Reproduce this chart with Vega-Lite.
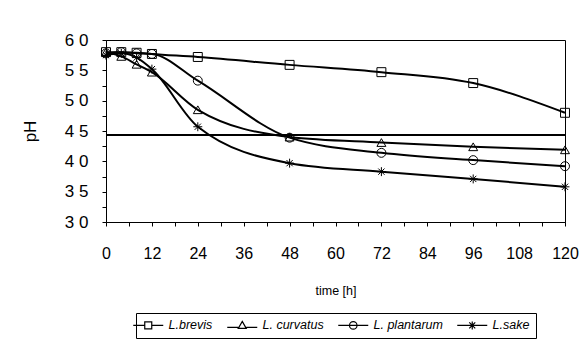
{
  "$schema": "https://vega.github.io/schema/vega-lite/v6.json",
  "width": 459,
  "height": 182,
  "autosize": {"type": "none"},
  "padding": {"left": 106, "top": 40, "right": 17, "bottom": 121},
  "background": "white",
  "config": {
    "font": "Liberation Sans",
    "view": {"stroke": "black", "strokeWidth": 1},
    "axis": {
      "domainColor": "black",
      "tickColor": "black",
      "labelColor": "black",
      "titleColor": "black",
      "grid": false,
      "tickSize": 4,
      "labelFontSize": 16,
      "titleFontWeight": "normal"
    }
  },
  "data": {
    "values": [
      {"series": "L.brevis", "t": 0, "ph": 5.8},
      {"series": "L.brevis", "t": 4, "ph": 5.8},
      {"series": "L.brevis", "t": 8, "ph": 5.79},
      {"series": "L.brevis", "t": 12, "ph": 5.77},
      {"series": "L.brevis", "t": 24, "ph": 5.72},
      {"series": "L.brevis", "t": 48, "ph": 5.59},
      {"series": "L.brevis", "t": 72, "ph": 5.47},
      {"series": "L.brevis", "t": 96, "ph": 5.29},
      {"series": "L.brevis", "t": 120, "ph": 4.8},
      {"series": "L. curvatus", "t": 0, "ph": 5.8},
      {"series": "L. curvatus", "t": 4, "ph": 5.73},
      {"series": "L. curvatus", "t": 8, "ph": 5.6},
      {"series": "L. curvatus", "t": 12, "ph": 5.47},
      {"series": "L. curvatus", "t": 24, "ph": 4.85},
      {"series": "L. curvatus", "t": 48, "ph": 4.4},
      {"series": "L. curvatus", "t": 72, "ph": 4.31},
      {"series": "L. curvatus", "t": 96, "ph": 4.24},
      {"series": "L. curvatus", "t": 120, "ph": 4.19},
      {"series": "L. plantarum", "t": 0, "ph": 5.78},
      {"series": "L. plantarum", "t": 4, "ph": 5.8},
      {"series": "L. plantarum", "t": 8, "ph": 5.78},
      {"series": "L. plantarum", "t": 12, "ph": 5.77},
      {"series": "L. plantarum", "t": 24, "ph": 5.33},
      {"series": "L. plantarum", "t": 48, "ph": 4.39},
      {"series": "L. plantarum", "t": 72, "ph": 4.14},
      {"series": "L. plantarum", "t": 96, "ph": 4.02},
      {"series": "L. plantarum", "t": 120, "ph": 3.92},
      {"series": "L.sake", "t": 0, "ph": 5.75},
      {"series": "L.sake", "t": 4, "ph": 5.78},
      {"series": "L.sake", "t": 8, "ph": 5.71},
      {"series": "L.sake", "t": 12, "ph": 5.52},
      {"series": "L.sake", "t": 24, "ph": 4.57},
      {"series": "L.sake", "t": 48, "ph": 3.97},
      {"series": "L.sake", "t": 72, "ph": 3.83},
      {"series": "L.sake", "t": 96, "ph": 3.71},
      {"series": "L.sake", "t": 120, "ph": 3.58}
    ]
  },
  "encoding": {
    "x": {
      "field": "t",
      "type": "quantitative",
      "scale": {"domain": [0, 120], "nice": false, "zero": false},
      "axis": {
        "title": "time [h]",
        "titleFontSize": 12.5,
        "titlePadding": 23,
        "labelPadding": 19,
        "values": [0, 6, 12, 18, 24, 30, 36, 42, 48, 54, 60, 66, 72, 78, 84, 90, 96, 102, 108, 114, 120],
        "labelExpr": "datum.value % 12 === 0 ? datum.label : ''",
        "labelFlush": false,
        "labelOverlap": false
      }
    },
    "y": {
      "field": "ph",
      "type": "quantitative",
      "scale": {"domain": [3, 6], "nice": false, "zero": false},
      "axis": {
        "title": "pH",
        "titleFontSize": 17,
        "titlePadding": 25,
        "labelPadding": 14,
        "labelFontSize": 17,
        "values": [3, 3.25, 3.5, 3.75, 4, 4.25, 4.5, 4.75, 5, 5.25, 5.5, 5.75, 6],
        "labelExpr": "(datum.value * 2) % 1 === 0 ? replace(format(datum.value, '.1f'), '.', ' ') : ''",
        "labelFlush": false,
        "labelOverlap": false
      }
    }
  },
  "layer": [
    {
      "mark": {"type": "rule", "color": "black", "strokeWidth": 1.5},
      "encoding": {"y": {"datum": 4.43}, "x": {"datum": 0}, "x2": {"datum": 120}}
    },
    {
      "mark": {"type": "line", "color": "black", "strokeWidth": 2, "interpolate": "monotone"},
      "encoding": {"detail": {"field": "series"}}
    },
    {
      "mark": {"type": "point", "filled": false, "color": "black", "size": 80, "strokeWidth": 1, "opacity": 1},
      "encoding": {
        "shape": {
          "field": "series",
          "scale": {
            "domain": ["L.brevis", "L. curvatus", "L. plantarum", "L.sake"],
            "range": ["square", "triangle-up", "circle", "M-1,0H1M0,-1V1M-0.7,-0.7L0.7,0.7M-0.7,0.7L0.7,-0.7"]
          },
          "legend": null
        }
      }
    },
    {
      "mark": {"type": "point", "filled": false, "color": "black", "opacity": 0, "strokeWidth": 1},
      "encoding": {
        "shape": {
          "field": "series",
          "scale": {
            "domain": ["L.brevis", "L. curvatus", "L. plantarum", "L.sake"],
            "range": [
              "M-3,0H-0.7M0.7,0H3M-0.7,-0.7H0.7V0.7H-0.7Z",
              "M-3,0.4H-0.8M0.8,0.4H3M0,-0.8L0.8,0.6H-0.8Z",
              "M-3,0H3M0.75,0A0.75,0.75 0 1,1 -0.75,0A0.75,0.75 0 1,1 0.75,0",
              "M-3,0H3M-0.8,0H0.8M0,-0.8V0.8M-0.6,-0.6L0.6,0.6M-0.6,0.6L0.6,-0.6"
            ]
          },
          "legend": {
            "title": null,
            "orient": "none",
            "legendX": 30,
            "legendY": 273,
            "direction": "horizontal",
            "columns": 4,
            "symbolSize": 100,
            "symbolOpacity": 1,
            "symbolStrokeColor": "black",
            "symbolFillColor": "transparent",
            "symbolStrokeWidth": 1.2,
            "labelFontSize": 12.5,
            "labelFontStyle": "italic",
            "labelColor": "black",
            "labelOffset": 14,
            "columnPadding": 11,
            "strokeColor": "black",
            "padding": 6,
            "offset": 0
          }
        }
      }
    }
  ],
  "resolve": {"scale": {"shape": "independent"}}
}
